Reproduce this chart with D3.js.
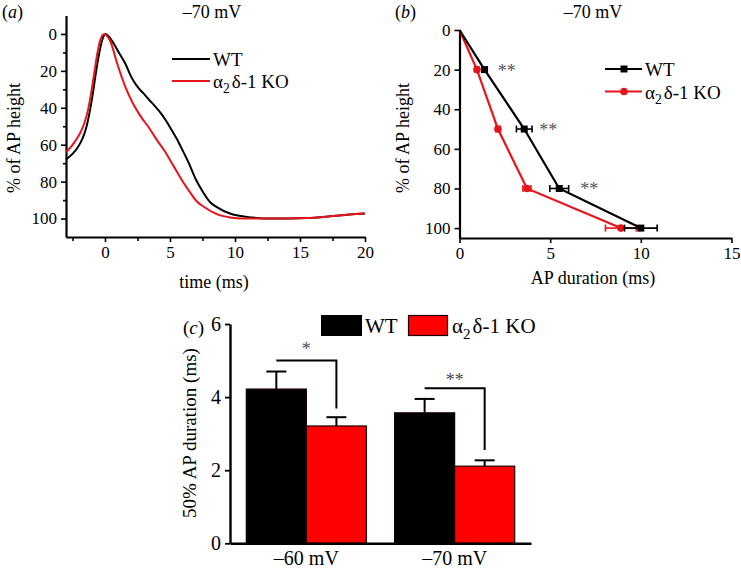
<!DOCTYPE html>
<html>
<head>
<meta charset="utf-8">
<script src="https://cdn.jsdelivr.net/npm/d3@7"></script>
<style>
  body { margin: 0; background: #fff; }
  svg { font-family: "Liberation Serif", "Times New Roman", serif; }
  .axis path, .axis line { stroke: #000; }
</style>
</head>
<body>
<svg id="fig" width="741" height="570"></svg>
<script>
// ---- panel (a): AP traces, time (ms) vs % of AP height
const traceWT = [
  [-3, 68], [-2.5, 65], [-2.1, 61.5], [-1.75, 57], [-1.45, 51], [-1.2, 43], [-0.95, 33],
  [-0.7, 21], [-0.46, 11], [-0.2, 3], [0.05, 0], [0.35, 1.8], [0.69, 5.4], [1.1, 10.5], [1.58, 16.3],
  [1.9, 21.5], [2.22, 25.8], [2.6, 29.5], [3.0, 32.5], [3.37, 35.5], [3.8, 38.8], [4.26, 42.6],
  [4.7, 47], [5.16, 52.5], [5.54, 57], [6.0, 63.5], [6.43, 69.7], [7.0, 79], [7.57, 86],
  [8.09, 91.2], [8.6, 93.8], [9.62, 97.3], [10.9, 99.1], [12.9, 100], [15.5, 99.7],
  [17.3, 98.8], [18.8, 97.8], [20, 97.3]
];
const traceKO = [
  [-3, 64], [-2.6, 61], [-2.24, 57.5], [-1.9, 53.5], [-1.6, 48.5], [-1.3, 41], [-1.04, 31],
  [-0.8, 20], [-0.6, 11], [-0.35, 3], [-0.05, 0], [0.2, 1.5], [0.44, 4.5], [0.95, 16.3], [1.58, 29],
  [2.1, 37], [2.73, 44.5], [3.37, 50.7], [4.0, 57.5], [4.6, 63.5], [5.28, 71.6],
  [6.04, 80.6], [6.56, 86], [7.07, 90.8], [7.57, 93.5], [8.6, 97.6], [9.62, 99.4],
  [10.5, 100], [12.9, 100], [15.5, 99.7], [17.3, 98.8], [18.8, 97.8], [20, 97.3]
];
const aXTicks = [0, 5, 10, 15, 20];
const aXMinor = [-2.5, 2.5, 7.5, 12.5, 17.5];
const aYTicks = [0, 20, 40, 60, 80, 100];
const aYMinor = [10, 30, 50, 70, 90];

// ---- panel (b): AP duration at % of AP height
const heightLevels = [0, 20, 50, 80, 100];
const durWT = [0, 1.38, 3.57, 5.5, 10.0];
const errWT = [0, 0.15, 0.43, 0.52, 0.9];
const durKO = [0, 0.96, 2.12, 3.72, 8.9];
const errKO = [0, 0.1, 0.12, 0.22, 0.85];
const starLevels = [20, 50, 80];
const starX = [2.6, 4.9, 7.15];
const bXTicks = [0, 5, 10, 15];
const bYTicks = [0, 20, 40, 60, 80, 100];

// ---- panel (c): 50% AP duration bars
const holding = ['\u201360 mV', '\u201370 mV'];
const genotypes = ['WT', 'KO'];
const apd50WT = [4.22, 3.57];
const apd50WTerr = [0.48, 0.38];
const apd50KO = [3.21, 2.11];
const apd50KOerr = [0.24, 0.16];
const sigTop = [5.0, 4.24];
const sigBottom = [3.69, 2.55];
const sigLabel = ['*', '**'];
const cYTicks = [0, 2, 4, 6];

const RED = '#e8141b';
const svg = d3.select('#fig');

function koLabel(sel, size) {
  sel.append('tspan').text('\u03b1');
  sel.append('tspan').attr('dy', size * 0.28).style('font-size', (size * 0.72) + 'px').text('2');
  sel.append('tspan').attr('dy', -size * 0.28).attr('dx', 2).text('\u03b4-1 KO');
}

// ================= panel (a)
{
  const x = d3.scaleLinear().domain([-3, 20]).range([66, 365]);
  const y = d3.scaleLinear().domain([-10, 110]).range([15.5, 237]);
  const g = svg.append('g');

  g.append('g').attr('class', 'axis').attr('transform', 'translate(0,237)')
    .call(d3.axisBottom(x).tickValues(aXTicks).tickSize(5).tickSizeOuter(0).tickPadding(4));
  g.append('g').attr('class', 'axis').attr('transform', 'translate(0,237)')
    .call(d3.axisBottom(x).tickValues(aXMinor).tickSize(4).tickFormat('').tickSizeOuter(0))
    .select('.domain').remove();
  g.append('g').attr('class', 'axis').attr('transform', 'translate(66,0)')
    .call(d3.axisLeft(y).tickValues(aYTicks).tickSize(5).tickSizeOuter(0).tickPadding(4));
  g.append('g').attr('class', 'axis').attr('transform', 'translate(66,0)')
    .call(d3.axisLeft(y).tickValues(aYMinor).tickSize(3).tickFormat('').tickSizeOuter(0))
    .select('.domain').remove();
  g.selectAll('.axis .domain').attr('stroke-width', 2.2);
  g.selectAll('.axis line').attr('stroke-width', 1.6);
  g.selectAll('.axis text').style('font-size', '17px').style('font-family', 'Liberation Serif');

  const line = d3.line().x(d => x(d[0])).y(d => y(d[1])).curve(d3.curveMonotoneX);
  g.append('path').datum(traceWT).attr('d', line)
    .attr('fill', 'none').attr('stroke', '#000').attr('stroke-width', 2);
  g.append('path').datum(traceKO).attr('d', line)
    .attr('fill', 'none').attr('stroke', RED).attr('stroke-width', 2);

  // legend
  g.append('line').attr('x1', 172).attr('x2', 210).attr('y1', 59).attr('y2', 59)
    .attr('stroke', '#000').attr('stroke-width', 2);
  g.append('text').attr('x', 213).attr('y', 66).style('font-size', '19px').text('WT');
  g.append('line').attr('x1', 172).attr('x2', 210).attr('y1', 81).attr('y2', 81)
    .attr('stroke', RED).attr('stroke-width', 2);
  g.append('text').attr('x', 213).attr('y', 88).style('font-size', '19px').call(koLabel, 19);

  g.append('text').attr('x', 212).attr('y', 18).attr('text-anchor', 'middle')
    .style('font-size', '18px').text('\u201370 mV');
  g.append('text').attr('x', 2).attr('y', 18).style('font-size', '18px')
    .html('(<tspan font-style="italic">a</tspan>)');
  g.append('text').attr('x', 214).attr('y', 288).attr('text-anchor', 'middle')
    .style('font-size', '18px').text('time (ms)');
  g.append('text').attr('transform', 'translate(20,138) rotate(-90)').attr('text-anchor', 'middle')
    .style('font-size', '18px').text('% of AP height');
}

// ================= panel (b)
{
  const x = d3.scaleLinear().domain([0, 15]).range([459.5, 731.5]);
  const y = d3.scaleLinear().domain([0, 105]).range([30, 238]);
  const g = svg.append('g');

  g.append('g').attr('class', 'axis').attr('transform', 'translate(0,238)')
    .call(d3.axisBottom(x).tickValues(bXTicks).tickSize(5).tickSizeOuter(0).tickPadding(4));
  g.append('g').attr('class', 'axis').attr('transform', 'translate(459.5,0)')
    .call(d3.axisLeft(y).tickValues(bYTicks).tickSize(5).tickSizeOuter(0).tickPadding(4));
  g.selectAll('.axis .domain').attr('stroke-width', 2.2);
  g.selectAll('.axis line').attr('stroke-width', 1.6);
  g.selectAll('.axis text').style('font-size', '17px').style('font-family', 'Liberation Serif');

  const series = [
    {dur: durKO, err: errKO, color: RED, shape: 'circle'},
    {dur: durWT, err: errWT, color: '#000', shape: 'square'}
  ];
  const line = d3.line().x(d => x(d[0])).y(d => y(d[1]));
  series.forEach(s => {
    const pts = heightLevels.map((h, i) => [s.dur[i], h, s.err[i]]);
    g.append('path').datum(pts).attr('d', line)
      .attr('fill', 'none').attr('stroke', s.color).attr('stroke-width', 2.2);
    const eb = g.append('g').attr('stroke', s.color).attr('stroke-width', 1.6);
    pts.filter(p => p[2] > 0).forEach(p => {
      eb.append('line').attr('x1', x(p[0] - p[2])).attr('x2', x(p[0] + p[2]))
        .attr('y1', y(p[1])).attr('y2', y(p[1]));
      [p[0] - p[2], p[0] + p[2]].forEach(v => {
        eb.append('line').attr('x1', x(v)).attr('x2', x(v))
          .attr('y1', y(p[1]) - 3.5).attr('y2', y(p[1]) + 3.5);
      });
    });
    pts.slice(1).forEach(p => {
      if (s.shape === 'circle') {
        g.append('circle').attr('cx', x(p[0])).attr('cy', y(p[1])).attr('r', 3.8).attr('fill', s.color);
      } else {
        g.append('rect').attr('x', x(p[0]) - 3.5).attr('y', y(p[1]) - 3.5)
          .attr('width', 7).attr('height', 7).attr('fill', s.color);
      }
    });
  });

  g.selectAll('.star').data(starLevels).join('text').attr('class', 'star')
    .attr('x', (d, i) => x(starX[i])).attr('y', d => y(d) + 7)
    .attr('text-anchor', 'middle').attr('fill', '#555').style('font-size', '18px').text('**');

  // legend
  g.append('line').attr('x1', 605).attr('x2', 642).attr('y1', 69).attr('y2', 69)
    .attr('stroke', '#000').attr('stroke-width', 2.2);
  g.append('rect').attr('x', 620.5).attr('y', 65.5).attr('width', 7).attr('height', 7).attr('fill', '#000');
  g.append('text').attr('x', 645).attr('y', 76).style('font-size', '19px').text('WT');
  g.append('line').attr('x1', 605).attr('x2', 642).attr('y1', 91.5).attr('y2', 91.5)
    .attr('stroke', RED).attr('stroke-width', 2.2);
  g.append('circle').attr('cx', 624).attr('cy', 91.5).attr('r', 3.8).attr('fill', RED);
  g.append('text').attr('x', 645).attr('y', 98.5).style('font-size', '19px').call(koLabel, 19);

  g.append('text').attr('x', 593).attr('y', 18).attr('text-anchor', 'middle')
    .style('font-size', '18px').text('\u201370 mV');
  g.append('text').attr('x', 395).attr('y', 18).style('font-size', '18px')
    .html('(<tspan font-style="italic">b</tspan>)');
  g.append('text').attr('x', 593).attr('y', 284).attr('text-anchor', 'middle')
    .style('font-size', '18px').text('AP duration (ms)');
  g.append('text').attr('transform', 'translate(409,138) rotate(-90)').attr('text-anchor', 'middle')
    .style('font-size', '18px').text('% of AP height');
}

// ================= panel (c)
{
  const y = d3.scaleLinear().domain([0, 6]).range([543.3, 324]);
  const x0 = d3.scaleBand().domain(holding).range([230, 531]).paddingInner(0.19).paddingOuter(0.11);
  const x1 = d3.scaleBand().domain(genotypes).range([0, x0.bandwidth()]);
  const g = svg.append('g');

  const rows = holding.map((h, i) => [
    {h, k: 'WT', v: apd50WT[i], e: apd50WTerr[i]},
    {h, k: 'KO', v: apd50KO[i], e: apd50KOerr[i]}
  ]).flat();
  const cx = d => x0(d.h) + x1(d.k) + x1.bandwidth() / 2;

  // error bars (upper only)
  const eb = g.append('g').attr('stroke', '#000').attr('stroke-width', 2);
  rows.forEach(d => {
    eb.append('line').attr('x1', cx(d)).attr('x2', cx(d)).attr('y1', y(d.v)).attr('y2', y(d.v + d.e));
    eb.append('line').attr('x1', cx(d) - 10).attr('x2', cx(d) + 10)
      .attr('y1', y(d.v + d.e)).attr('y2', y(d.v + d.e));
  });

  g.selectAll('.bar').data(rows).join('rect').attr('class', 'bar')
    .attr('x', d => x0(d.h) + x1(d.k)).attr('width', x1.bandwidth())
    .attr('y', d => y(d.v)).attr('height', d => y(0) - y(d.v))
    .attr('fill', d => d.k === 'WT' ? '#000' : '#ff0000')
    .attr('stroke', '#1a0000').attr('stroke-width', 1.2);

  g.append('g').attr('class', 'axis').attr('transform', 'translate(230,0)')
    .call(d3.axisLeft(y).tickValues(cYTicks).tickFormat(d3.format('d'))
      .tickSize(5).tickSizeOuter(0).tickPadding(4));
  g.append('g').attr('class', 'axis').attr('transform', 'translate(0,543.3)')
    .call(d3.axisBottom(x0).tickSize(0).tickSizeOuter(0).tickPadding(8));
  g.selectAll('.axis .domain').attr('stroke-width', 2.4);
  g.selectAll('.axis line').attr('stroke-width', 1.8);
  g.selectAll('.axis text').style('font-size', '20px').style('font-family', 'Liberation Serif');

  // significance brackets
  holding.forEach((h, i) => {
    const xa = x0(h) + x1('WT') + x1.bandwidth() / 2;
    const xb = x0(h) + x1('KO') + x1.bandwidth() / 2;
    g.append('path')
      .attr('d', `M${xa},${y(sigTop[i])}H${xb}V${y(sigBottom[i])}`)
      .attr('fill', 'none').attr('stroke', '#000').attr('stroke-width', 2);
    g.append('text').attr('x', (xa + xb) / 2).attr('y', y(sigTop[i]) - (i === 0 ? 6 : 2))
      .attr('text-anchor', 'middle').attr('fill', '#4a4a4a').style('font-size', '18px').text(sigLabel[i]);
  });

  // legend
  g.append('rect').attr('x', 321).attr('y', 315).attr('width', 41).attr('height', 21)
    .attr('fill', '#000');
  g.append('text').attr('x', 365).attr('y', 333).style('font-size', '21px').text('WT');
  g.append('rect').attr('x', 408.5).attr('y', 315.5).attr('width', 39).attr('height', 20)
    .attr('fill', '#ff0000').attr('stroke', '#1a0000').attr('stroke-width', 1.2);
  g.append('text').attr('x', 452).attr('y', 333).style('font-size', '21px').call(koLabel, 21);

  g.append('text').attr('x', 183).attr('y', 334).style('font-size', '19px')
    .html('(<tspan font-style="italic">c</tspan>)');
  g.append('text').attr('transform', 'translate(196,433) rotate(-90)').attr('text-anchor', 'middle')
    .style('font-size', '19px').text('50% AP duration (ms)');
}
</script>
</body>
</html>
